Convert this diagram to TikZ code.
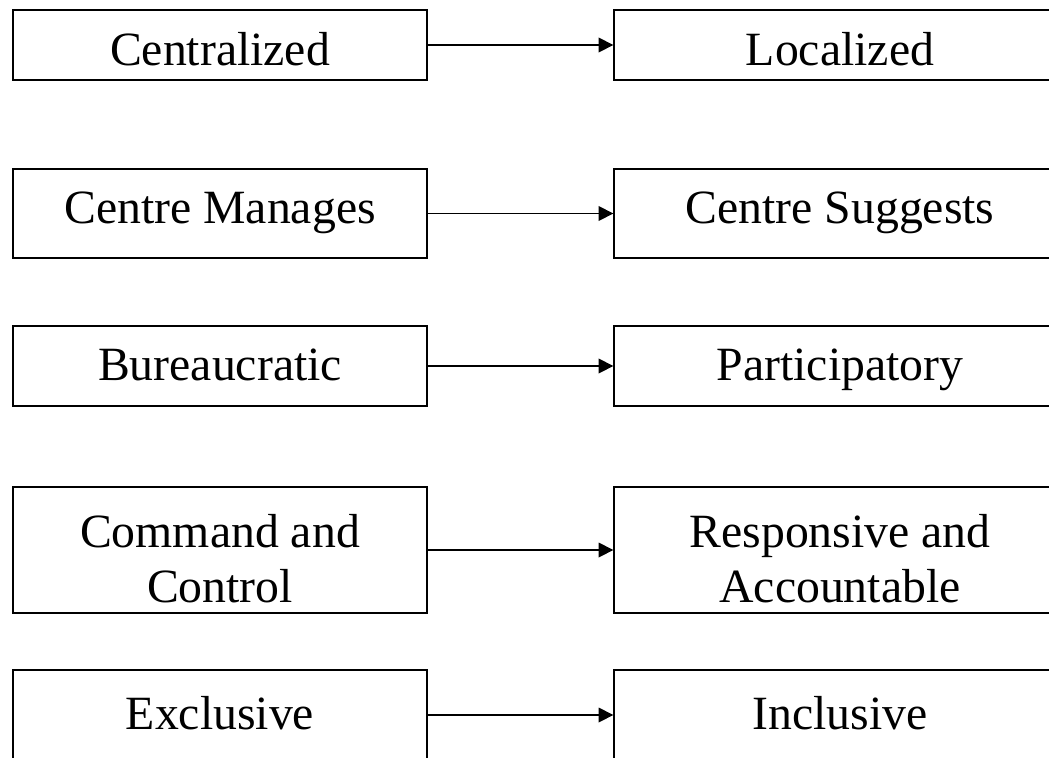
\documentclass[tikz,border=0pt]{standalone}
\usepackage{fontspec}
\setmainfont{Liberation Serif}
\usetikzlibrary{positioning, arrows.meta}

\begin{document}
\begin{tikzpicture}[x=0.75pt, y=-0.75pt,
    box/.style={draw, line width=1pt, rectangle, align=center, inner sep=0pt,
        text height=25pt, text depth=3.9pt,
        font=\fontsize{35.8}{41}\selectfont},
    lbox/.style={box, minimum width=310.5pt},
    rbox/.style={box, minimum width=339pt},
    link/.style={line width=1pt, -{Triangle[length=11pt, width=11pt]}}]
    \useasboundingbox (0,0) rectangle (1049,757);
    \clip (0,0) rectangle (1049,757);

    \node[lbox, minimum height=52.5pt, text height=32.2pt, text depth=2.1pt] (l1) at (220,45) {Centralized};
    \node[rbox, minimum height=52.5pt, text height=32.2pt, text depth=2.1pt] (r1) at (840,45) {Localized};
    \node[lbox, minimum height=66.75pt, text depth=9.3pt] (l2) at (220,213.5) {Centre Manages};
    \node[rbox, minimum height=66.75pt, text depth=9.3pt] (r2) at (840,213.5) {Centre Suggests};
    \node[lbox, minimum height=60pt] (l3) at (220,366) {Bureaucratic};
    \node[rbox, minimum height=60pt] (r3) at (840,366) {Participatory};
    \node[lbox, minimum height=94.5pt, text height=78.8pt, text depth=0.7pt] (l4) at (220,550) {Command and\\Control};
    \node[rbox, minimum height=94.5pt, text height=78.8pt, text depth=0.7pt] (r4) at (840,550) {Responsive and\\Accountable};
    \node[lbox, minimum height=67.5pt] (l5) at (220,715) {Exclusive};
    \node[rbox, minimum height=67.5pt] (r5) at (840,715) {Inclusive};

    % Draw arrows
    \draw[link] (l1) -- (r1);
    \draw[link] (l2) -- (r2);
    \draw[link] (l3) -- (r3);
    \draw[link] (l4) -- (r4);
    \draw[link] (l5) -- (r5);
\end{tikzpicture}
\end{document}
